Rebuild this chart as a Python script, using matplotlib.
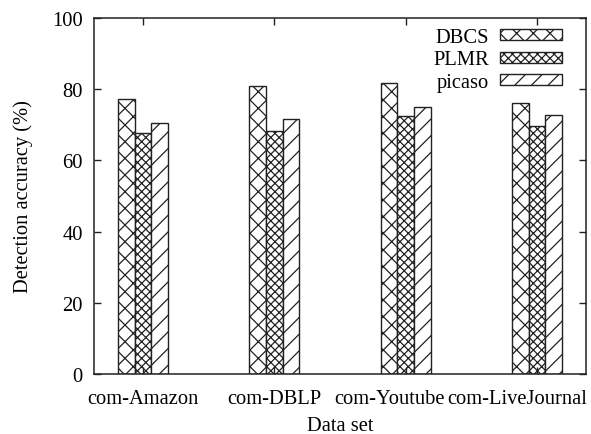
import matplotlib
matplotlib.use("Agg")
import matplotlib.pyplot as plt
import matplotlib.transforms as mtransforms
import numpy as np

plt.rcParams["font.family"] = ["Liberation Serif", "DejaVu Serif"]
plt.rcParams["hatch.linewidth"] = 0.9

datasets = ["com-Amazon", "com-DBLP", "com-Youtube", "com-LiveJournal"]
methods = ["DBCS", "PLMR", "picaso"]
dbcs = [77.2, 80.9, 81.7, 76.1]
plmr = [67.6, 68.3, 72.4, 69.6]
picaso = [70.4, 71.6, 75.0, 72.8]
yticks = [0, 20, 40, 60, 80, 100]

series = [dbcs, plmr, picaso]
hatches = ["xx", "xxxx", "//"]
fs = 14.8

fig = plt.figure(figsize=(5.91, 4.35), dpi=100)
ax = fig.add_axes([0.159, 0.138, 0.8325, 0.818])

x = np.arange(len(datasets))
w = 0.127
for i, (vals, h, name) in enumerate(zip(series, hatches, methods)):
    ax.bar(x + (i - 1) * w, vals, width=w, facecolor="white",
           edgecolor="#222222", hatch=h, linewidth=1.0, label=name)

ax.set_xlim(-0.374, 3.374)
ax.set_ylim(0, 100)
ax.set_xticks(x)
ax.set_xticklabels(datasets)
ax.set_yticks(yticks)
ax.tick_params(direction="in", top=True, right=True, length=5, width=1,
               labelsize=fs, color="#222222")
ax.tick_params(axis="y", pad=8)
ax.tick_params(axis="x", pad=10.5)

# nudge the last two category labels left so they stay inside the figure
shifts = [0, 0, -16, -20]
for lab, dx in zip(ax.get_xticklabels(), shifts):
    lab.set_transform(lab.get_transform() +
                      mtransforms.ScaledTranslation(dx / 100, 0, fig.dpi_scale_trans))

for s in ax.spines.values():
    s.set_linewidth(1.1)
    s.set_color("#222222")

ax.set_xlabel("Data set", fontsize=fs, labelpad=6)
ax.set_ylabel("Detection accuracy (%)", fontsize=fs, labelpad=14)

ax.legend(loc="upper right", frameon=False, markerfirst=False, fontsize=fs,
          handlelength=3.0, handleheight=0.45, labelspacing=0.17,
          handletextpad=0.55, borderpad=0, borderaxespad=0,
          bbox_to_anchor=(562 / 591, 1 - 29 / 435),
          bbox_transform=fig.transFigure)

fig.savefig("out.png", dpi=100)
